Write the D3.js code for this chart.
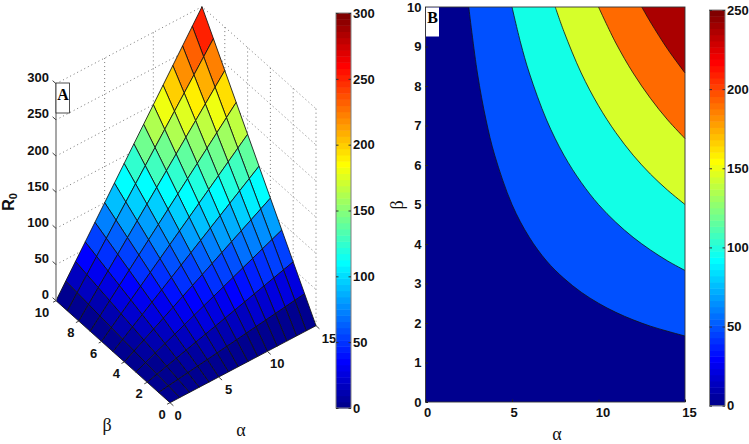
<!DOCTYPE html>
<html>
<head>
<meta charset="utf-8">
<script src="https://cdn.jsdelivr.net/npm/d3@7"></script>
<style>
  body { margin: 0; background: #fff; }
  svg { display: block; }
  text { font-family: "Liberation Sans", Arial, sans-serif; font-weight: bold; font-size: 13px; fill: #111; }
  .greek { font-family: "Liberation Serif", serif; font-weight: normal; font-size: 18px; }
  .tag { font-family: "Liberation Serif", serif; font-weight: bold; font-size: 16px; fill: #000; }
</style>
</head>
<body>
<svg width="749" height="444"></svg>
<script>
// panel A: R0 read at each mesh node, one row per beta, one column per alpha
var alphaGrid = [0, 1, 2, 3, 4, 5, 6, 7, 8, 9, 10, 11, 12, 13, 14, 15];
var betaGrid = [0, 1, 2, 3, 4, 5, 6, 7, 8, 9, 10];
var r0Surface = [
  [0, 0, 0, 0, 0, 0, 0, 0, 0, 0, 0, 0, 0, 0, 0, 0],
  [0, 2, 4, 6, 8, 10, 12, 14, 16, 18, 20, 22, 24, 26, 28, 30],
  [0, 4, 8, 12, 16, 20, 24, 28, 32, 36, 40, 44, 48, 52, 56, 60],
  [0, 6, 12, 18, 24, 30, 36, 42, 48, 54, 60, 66, 72, 78, 84, 90],
  [0, 8, 16, 24, 32, 40, 48, 56, 64, 72, 80, 88, 96, 104, 112, 120],
  [0, 10, 20, 30, 40, 50, 60, 70, 80, 90, 100, 110, 120, 130, 140, 150],
  [0, 12, 24, 36, 48, 60, 72, 84, 96, 108, 120, 132, 144, 156, 168, 180],
  [0, 14, 28, 42, 56, 70, 84, 98, 112, 126, 140, 154, 168, 182, 196, 210],
  [0, 16, 32, 48, 64, 80, 96, 112, 128, 144, 160, 176, 192, 208, 224, 240],
  [0, 18, 36, 54, 72, 90, 108, 126, 144, 162, 180, 198, 216, 234, 252, 270],
  [0, 20, 40, 60, 80, 100, 120, 140, 160, 180, 200, 220, 240, 260, 280, 300]
];
var alphaTicksA = [0, 5, 10, 15];
var betaTicksA = [0, 2, 4, 6, 8, 10];
var zTicksA = [0, 50, 100, 150, 200, 250, 300];
var colorbarTicksA = [0, 50, 100, 150, 200, 250, 300];

// panel B: contour lines as [alpha, beta]
var contour50 = [[2.5, 10], [3, 8.33], [3.5, 7.14], [4, 6.25], [5, 5], [6, 4.17], [7, 3.57], [8, 3.13], [9, 2.78], [10, 2.5], [11, 2.27], [12, 2.08], [13, 1.92], [14, 1.79], [15, 1.67]];
var contour100 = [[5, 10], [5.5, 9.09], [6, 8.33], [7, 7.14], [8, 6.25], [9, 5.56], [10, 5], [11, 4.55], [12, 4.17], [13, 3.85], [14, 3.57], [15, 3.33]];
var contour150 = [[7.5, 10], [8, 9.38], [9, 8.33], [10, 7.5], [11, 6.82], [12, 6.25], [13, 5.77], [14, 5.36], [15, 5]];
var contour200 = [[10, 10], [11, 9.09], [12, 8.33], [13, 7.69], [14, 7.14], [15, 6.67]];
var contour250 = [[12.5, 10], [13, 9.62], [14, 8.93], [15, 8.33]];
var contourLines = [contour50, contour100, contour150, contour200, contour250];
var bandColors = ["#00008f", "#0050ff", "#12ffe6", "#d6ff2a", "#ff6a00", "#aa0000"];
var alphaTicksB = [0, 5, 10, 15];
var betaTicksB = [0, 1, 2, 3, 4, 5, 6, 7, 8, 9, 10];
var colorbarTicksB = [0, 50, 100, 150, 200, 250];

var svg = d3.select("svg");

// matlab jet, 64 steps
var jetColors = d3.range(64).map(function(i) {
  var t = (i + 1) / 64;
  function c(v) { return Math.round(255 * Math.max(0, Math.min(1, v))); }
  return d3.rgb(
    c(Math.min(4 * t - 1.5, -4 * t + 4.5)),
    c(Math.min(4 * t - 0.5, -4 * t + 3.5)),
    c(Math.min(4 * t + 0.5, -4 * t + 2.5))
  ).formatHex();
});

//---------- panel A, the 3d view ----------
var xFromAlpha = d3.scaleLinear().domain([0, 15]).range([0, 146]);
var xFromBeta = d3.scaleLinear().domain([0, 10]).range([0, -114]);
var yFromAlpha = d3.scaleLinear().domain([0, 15]).range([0, -77]);
var yFromBeta = d3.scaleLinear().domain([0, 10]).range([0, -102]);
var yFromZ = d3.scaleLinear().domain([0, 300]).range([0, -217]);
var colorA = d3.scaleQuantize().domain([0, 300]).range(jetColors);

function project(a, b, z) {
  return [170 + xFromAlpha(a) + xFromBeta(b), 402.7 + yFromAlpha(a) + yFromBeta(b) + yFromZ(z)];
}

var line3d = d3.line();
var panelA = svg.append("g");

// dotted grid on the two back walls
var walls = panelA.append("g")
  .attr("fill", "none")
  .attr("stroke", "#666")
  .attr("stroke-width", 0.9)
  .attr("stroke-dasharray", "1,3");
zTicksA.forEach(function(z) {
  walls.append("path").attr("d", line3d([project(0, 10, z), project(15, 10, z), project(15, 0, z)]));
});
alphaTicksA.slice(1, 3).forEach(function(a) {
  walls.append("path").attr("d", line3d([project(a, 10, 0), project(a, 10, 300)]));
});
betaTicksA.slice(0, 5).forEach(function(b) {
  walls.append("path").attr("d", line3d([project(15, b, 0), project(15, b, 300)]));
});
walls.append("path").attr("d", line3d([project(15, 10, 0), project(15, 10, 300)]));

// the faceted surface, far cells first, colour taken from the first node of the cell
var cells = [];
betaGrid.slice(0, -1).forEach(function(b, j) {
  alphaGrid.slice(0, -1).forEach(function(a, i) {
    cells.push({i: i, j: j});
  });
});
cells.sort(function(p, q) { return (q.i + q.j) - (p.i + p.j); });

panelA.selectAll(".cell")
  .data(cells)
  .enter()
  .append("path")
  .attr("class", "cell")
  .attr("d", function(d) {
    return line3d([
      project(alphaGrid[d.i], betaGrid[d.j], r0Surface[d.j][d.i]),
      project(alphaGrid[d.i + 1], betaGrid[d.j], r0Surface[d.j][d.i + 1]),
      project(alphaGrid[d.i + 1], betaGrid[d.j + 1], r0Surface[d.j + 1][d.i + 1]),
      project(alphaGrid[d.i], betaGrid[d.j + 1], r0Surface[d.j + 1][d.i])
    ]) + "Z";
  })
  .attr("fill", function(d) { return colorA(r0Surface[d.j][d.i]); })
  .attr("stroke", "#111")
  .attr("stroke-width", 0.85)
  .attr("stroke-linejoin", "round");

// z axis
panelA.append("path")
  .attr("d", line3d([project(0, 10, 0), project(0, 10, 300)]))
  .attr("stroke", "#8a8a8a")
  .attr("stroke-width", 1.5);

zTicksA.forEach(function(z) {
  panelA.append("path")
    .attr("d", line3d([project(0, 10, z), project(0, 10.3, z)]))
    .attr("stroke", "#444");
  var p = project(0, 10, z);
  panelA.append("text")
    .attr("x", p[0] - 7)
    .attr("y", p[1] - 1.5)
    .attr("text-anchor", "end")
    .text(z);
});

alphaTicksA.forEach(function(a) {
  panelA.append("path")
    .attr("d", line3d([project(a, 0, 0), project(a, -0.3, 0)]))
    .attr("stroke", "#444");
  var p = project(a, 0, 0);
  panelA.append("text")
    .attr("x", p[0] + (a == 0 ? 8 : a == 15 ? 13 : 10))
    .attr("y", p[1] + 17)
    .attr("text-anchor", "middle")
    .text(a);
});

betaTicksA.forEach(function(b) {
  panelA.append("path")
    .attr("d", line3d([project(0, b, 0), project(-0.3, b, 0)]))
    .attr("stroke", "#444");
  var p = project(0, b, 0);
  panelA.append("text")
    .attr("x", p[0] - (b == 10 ? 14 : 8))
    .attr("y", p[1] + 16)
    .attr("text-anchor", "middle")
    .text(b);
});

panelA.append("text").attr("class", "greek").attr("x", 107).attr("y", 431).attr("text-anchor", "middle").text("β");
panelA.append("text").attr("class", "greek").attr("x", 241).attr("y", 436).attr("text-anchor", "middle").text("α");

var r0Label = panelA.append("text")
  .attr("transform", "translate(14,202) rotate(-90)")
  .attr("text-anchor", "middle")
  .style("font-size", "16px");
r0Label.append("tspan").text("R");
r0Label.append("tspan").attr("dy", 3).style("font-size", "11px").text("0");

panelA.append("rect")
  .attr("x", 56).attr("y", 83).attr("width", 13.5).attr("height", 30)
  .attr("fill", "#fff").attr("stroke", "#222").attr("stroke-width", 0.8);
panelA.append("text").attr("class", "tag").attr("x", 63).attr("y", 100).attr("text-anchor", "middle").text("A");

//---------- colorbars ----------
function drawColorbar(x0, x1, y, ticks, maxValue) {
  var g = svg.append("g");
  g.selectAll("rect.band")
    .data(jetColors)
    .enter()
    .append("rect")
    .attr("class", "band")
    .attr("x", x0)
    .attr("width", x1 - x0)
    .attr("y", function(d, i) { return y((i + 1) / 64 * maxValue); })
    .attr("height", function(d, i) { return y(i / 64 * maxValue) - y((i + 1) / 64 * maxValue) + 0.5; })
    .attr("fill", function(d) { return d; });
  g.append("rect")
    .attr("x", x0).attr("width", x1 - x0)
    .attr("y", y(maxValue)).attr("height", y(0) - y(maxValue))
    .attr("fill", "none").attr("stroke", "#808080");
  var axis = g.append("g")
    .attr("transform", "translate(" + x1 + ",0)")
    .call(d3.axisRight(y).tickValues(ticks).tickSize(-2.5).tickPadding(2));
  axis.select(".domain").remove();
  axis.selectAll(".tick line").attr("stroke", "#333");
  var left = g.append("g")
    .attr("transform", "translate(" + x0 + ",0)")
    .call(d3.axisLeft(y).tickValues(ticks).tickSize(-2.5).tickFormat(""));
  left.select(".domain").remove();
  left.selectAll(".tick line").attr("stroke", "#333");
}

drawColorbar(336, 351, d3.scaleLinear().domain([0, 300]).range([408, 13]), colorbarTicksA, 300);
drawColorbar(709.5, 725, d3.scaleLinear().domain([0, 250]).range([405.7, 10]), colorbarTicksB, 250);

//---------- panel B, filled contours ----------
var x = d3.scaleLinear().domain([0, 15]).range([425.5, 685]);
var y = d3.scaleLinear().domain([0, 10]).range([402, 7]);
var panelB = svg.append("g");

panelB.append("rect")
  .attr("x", x(0)).attr("y", y(10))
  .attr("width", x(15) - x(0)).attr("height", y(0) - y(10))
  .attr("fill", bandColors[0]);

var contourPath = d3.line()
  .x(function(d) { return x(d[0]); })
  .y(function(d) { return y(d[1]); })
  .curve(d3.curveCatmullRom);

contourLines.forEach(function(points, k) {
  panelB.append("path")
    .attr("d", contourPath(points) + "L" + x(15) + "," + y(10) + "Z")
    .attr("fill", bandColors[k + 1]);
  panelB.append("path")
    .attr("d", contourPath(points))
    .attr("fill", "none")
    .attr("stroke", "#111")
    .attr("stroke-width", 0.8);
});

panelB.append("rect")
  .attr("x", x(0)).attr("y", y(10))
  .attr("width", x(15) - x(0)).attr("height", y(0) - y(10))
  .attr("fill", "none").attr("stroke", "#333").attr("stroke-width", 0.9);

var xAxisB = panelB.append("g")
  .attr("transform", "translate(0," + y(0) + ")")
  .call(d3.axisBottom(x).tickValues(alphaTicksB).tickSize(-2.5).tickPadding(6));
var yAxisB = panelB.append("g")
  .attr("transform", "translate(" + x(0) + ",0)")
  .call(d3.axisLeft(y).tickValues(betaTicksB).tickSize(-2.5).tickPadding(4));
[xAxisB, yAxisB].forEach(function(a) {
  a.select(".domain").remove();
  a.selectAll(".tick line").attr("stroke", "#222");
});
xAxisB.selectAll("text").attr("dx", function(d) { return d < 10 ? 1.5 : 4; });

panelB.append("text").attr("class", "greek").attr("x", 557).attr("y", 440).attr("text-anchor", "middle").text("α");
panelB.append("text").attr("class", "greek")
  .attr("transform", "translate(403,205) rotate(-90)")
  .attr("text-anchor", "middle")
  .text("β");

panelB.append("rect").attr("x", 426).attr("y", 7.5).attr("width", 13).attr("height", 29).attr("fill", "#fff");
panelB.append("text").attr("class", "tag").attr("x", 432.5).attr("y", 23).attr("text-anchor", "middle").text("B");
</script>
</body>
</html>
